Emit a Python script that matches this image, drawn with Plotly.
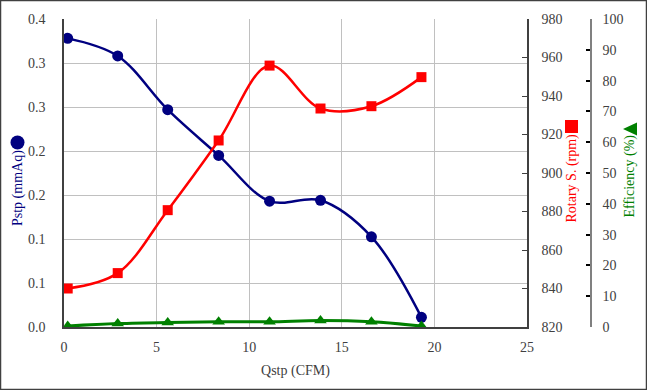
import plotly.graph_objects as go

# ---- data ----
qstp = [0.2, 2.9, 5.6, 8.35, 11.1, 13.85, 16.6, 19.3]
pstp = [0.328, 0.308, 0.247, 0.195, 0.143, 0.144, 0.1025, 0.011]
rotary = [840, 848, 880.7, 916.9, 955.8, 933.5, 934.7, 949.8]
efficiency = [0.3, 1.1, 1.5, 1.7, 1.7, 2.1, 1.7, 0.3]

p_tickvals = [0, 0.05, 0.10, 0.15, 0.20, 0.25, 0.30, 0.35]
p_ticktext = ["0.0", "0.1", "0.1", "0.2", "0.2", "0.3", "0.3", "0.4"]
r_tickvals = [820, 840, 860, 880, 900, 920, 940, 960, 980]
e_tickvals = [0, 10, 20, 30, 40, 50, 60, 70, 80, 90, 100]
x_tickvals = [0, 5, 10, 15, 20, 25]

# ---- layout geometry ----
W, H = 647, 390
ML, MR, MT, MB = 64, 10, 19, 63
PW, PH = W - ML - MR, H - MT - MB
x_dom_end = (527 - ML) / PW
eff_pos = (591 - ML) / PW

def px(xp):
    return (xp - ML) / PW

def py(yp):
    return (H - MB - yp) / PH

FONT = "Liberation Serif"
TICK = dict(family=FONT, size=14, color="#404040")
NAVY, RED, GREEN = "#000080", "#ff0000", "#008000"

fig = go.Figure()
fig.add_trace(go.Scatter(x=qstp, y=pstp, mode="lines+markers", yaxis="y",
                         line=dict(color=NAVY, width=2.5, shape="spline", smoothing=1),
                         marker=dict(symbol="circle", size=11, color=NAVY)))
fig.add_trace(go.Scatter(x=qstp, y=rotary, mode="lines+markers", yaxis="y2",
                         line=dict(color=RED, width=2.5, shape="spline", smoothing=1),
                         marker=dict(symbol="square", size=10, color=RED)))
fig.add_trace(go.Scatter(x=qstp, y=efficiency, mode="lines+markers", yaxis="y3",
                         line=dict(color=GREEN, width=3, shape="spline", smoothing=1),
                         marker=dict(symbol="triangle-up", size=11, color=GREEN)))

fig.update_layout(
    width=W, height=H,
    margin=dict(l=ML, r=MR, t=MT, b=MB, pad=0, autoexpand=False),
    paper_bgcolor="white", plot_bgcolor="white",
    showlegend=False,
    font=dict(family=FONT),
    xaxis=dict(domain=[0, x_dom_end], range=[0, 25], tickvals=x_tickvals,
               automargin=False,
               showgrid=True, gridcolor="#c0c0c0", gridwidth=1,
               showline=True, linecolor="#404040", linewidth=1.5,
               zeroline=False, ticks="", tickfont=TICK, ticklabelstandoff=6,
               title=dict(text="Qstp (CFM)", font=dict(family=FONT, size=14, color="#404040"),
                          standoff=12)),
    yaxis=dict(range=[0, 0.35], tickvals=p_tickvals, ticktext=p_ticktext,
               automargin=False,
               showgrid=True, gridcolor="#c0c0c0", gridwidth=1,
               showline=True, linecolor="#404040", linewidth=1.5,
               zeroline=False, ticks="", tickfont=TICK, ticklabelstandoff=14),
    yaxis2=dict(range=[820, 980], tickvals=r_tickvals, overlaying="y", side="right",
                anchor="x", showgrid=False, zeroline=False, automargin=False,
                showline=True, linecolor="#404040", linewidth=1.5,
                ticks="inside", ticklen=5, tickcolor="#404040", tickwidth=1,
                tickfont=TICK, ticklabelstandoff=10),
    yaxis3=dict(range=[0, 100], tickvals=e_tickvals, overlaying="y", side="right",
                anchor="free", position=eff_pos, showgrid=False, zeroline=False,
                automargin=False,
                showline=True, linecolor="#808080", linewidth=1.5,
                ticks="inside", ticklen=4, tickcolor="#000000", tickwidth=1.5,
                tickfont=TICK, ticklabelstandoff=8),
)

# rotated axis titles
titles = [
    dict(x=18, y=228, text="Pstp (mmAq)", color=NAVY),
    dict(x=572, y=225, text="Rotary S. (rpm)", color=RED),
    dict(x=629, y=220, text="Efficiency (%)", color=GREEN),
]
for a in titles:
    fig.add_annotation(x=px(a["x"]), y=py(a["y"]), xref="paper", yref="paper",
                       text=a["text"], textangle=-90, showarrow=False,
                       xanchor="center", yanchor="bottom",
                       font=dict(family=FONT, size=14, color=a["color"]))

# legend-like symbols next to the titles
fig.add_shape(type="circle", xref="paper", yref="paper",
              x0=px(10.5), x1=px(24.5), y0=py(149.5), y1=py(135.5),
              line=dict(width=0), fillcolor=NAVY)
fig.add_shape(type="rect", xref="paper", yref="paper",
              x0=px(565), x1=px(578), y0=py(133), y1=py(120),
              line=dict(width=0), fillcolor=RED)
fig.add_shape(type="path", xref="paper", yref="paper",
              path=f"M {px(623)} {py(129)} L {px(637)} {py(122.5)} L {px(637)} {py(135.5)} Z",
              line=dict(width=0), fillcolor=GREEN)

# outer border
fig.add_shape(type="rect", xref="paper", yref="paper",
              x0=px(0), x1=px(W), y0=py(H), y1=py(0),
              line=dict(color="#404040", width=2.5), fillcolor="rgba(0,0,0,0)")

fig.write_html("out.html",
               config={"displayModeBar": False},
               post_script="document.body.style.margin='0px';document.body.style.overflow='hidden';")
